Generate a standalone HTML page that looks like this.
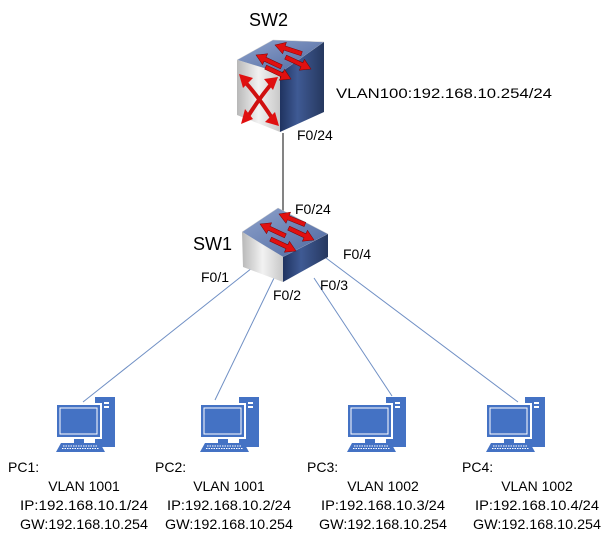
<!DOCTYPE html>
<html><head><meta charset="utf-8"><style>
html,body{margin:0;padding:0;background:#fff;}
svg{display:block;}
text{font-family:"Liberation Sans",sans-serif;font-size:14px;fill:#000;}
</style></head><body>
<svg width="611" height="542" viewBox="0 0 611 542" xmlns="http://www.w3.org/2000/svg">
<defs>
<linearGradient id="fl" x1="0" y1="0" x2="1" y2="0"><stop offset="0" stop-color="#b8b8b8"/><stop offset="0.5" stop-color="#f2f2f2"/><stop offset="1" stop-color="#c8c8c8"/></linearGradient>
<linearGradient id="rt" x1="0" y1="0" x2="1" y2="0"><stop offset="0" stop-color="#1f3360"/><stop offset="0.4" stop-color="#3f5a94"/><stop offset="1" stop-color="#26385f"/></linearGradient>
<linearGradient id="tp" x1="0" y1="0" x2="1" y2="1"><stop offset="0" stop-color="#8fa3cc"/><stop offset="1" stop-color="#4d679f"/></linearGradient>
<g id="pc">
<rect x="40" y="2" width="20" height="50" fill="#4472c4"/>
<rect x="49" y="7" width="5" height="2" fill="#fff"/><rect x="49" y="11" width="5" height="2" fill="#fff"/>
<rect x="0" y="8" width="47" height="36" fill="#fff"/>
<rect x="2" y="10" width="43" height="32" fill="#4472c4"/>
<rect x="5" y="13" width="37" height="26" fill="none" stroke="#fff" stroke-width="1"/>
<rect x="19" y="44" width="10" height="4" fill="#4472c4"/>
<polygon points="6,48 45,48 50,57 1,57" fill="#4472c4"/>
<line x1="8" y1="51" x2="43" y2="51" stroke="#fff" stroke-dasharray="1.5,1"/>
<line x1="7" y1="53.5" x2="44" y2="53.5" stroke="#fff" stroke-dasharray="1.5,1"/>
</g>
<g id="arr" fill="#e01010" stroke="#7a0000" stroke-width="0.5">
<polygon points="0,0 10,-6 10,-2.2 28,-2.2 28,2.2 10,2.2 10,6"/>
</g>
</defs>

<line x1="283" y1="133" x2="283" y2="212" stroke="#333" stroke-width="1.2"/>
<g stroke="#6f8fc4" stroke-width="1">
<line x1="252" y1="268" x2="83" y2="402"/>
<line x1="274" y1="278" x2="215" y2="400"/>
<line x1="314" y1="278" x2="392" y2="396"/>
<line x1="326" y1="258" x2="518" y2="402"/>
</g>

<!-- SW2 -->
<polygon points="237,60 273,40 324,42 280,73" fill="url(#tp)" stroke="#ccc" stroke-width="0.5"/>
<polygon points="237,60 280,73 280,132 237,115" fill="url(#fl)"/>
<polygon points="280,73 324,42 324,112 280,132" fill="url(#rt)"/>
<use href="#arr" transform="translate(275,45) rotate(18)"/>
<use href="#arr" transform="translate(256,55) rotate(25)"/>
<use href="#arr" transform="translate(311,69) rotate(205)"/>
<use href="#arr" transform="translate(291,79) rotate(205)"/>
<g stroke="#d01010" stroke-width="4" fill="none"><path d="M245,82 Q258,96 274,121"/><path d="M272,83 Q258,100 247,118"/></g>
<g fill="#e01010"><polygon points="239,74 253,78 243,88"/><polygon points="279,126 265,122 275,112"/><polygon points="278,77 264,79 273,90"/><polygon points="241,124 245,109 253,119"/></g>

<!-- SW1 -->
<polygon points="242,232 278,208 328,234 283,257" fill="url(#tp)" stroke="#ccc" stroke-width="0.5"/>
<polygon points="242,232 283,257 283,282 243,267" fill="url(#fl)"/>
<polygon points="283,257 328,234 328,257 283,282" fill="url(#rt)"/>
<use href="#arr" transform="translate(279,214) rotate(22)"/>
<use href="#arr" transform="translate(260,224) rotate(25)"/>
<use href="#arr" transform="translate(314,240) rotate(205)"/>
<use href="#arr" transform="translate(296,251) rotate(205)"/>

<use href="#pc" x="55" y="395"/>
<use href="#pc" x="199" y="395"/>
<use href="#pc" x="346" y="395"/>
<use href="#pc" x="485" y="395"/>

<text x="249" y="26" style="font-size:18px">SW2</text>
<text x="193" y="250" style="font-size:18px">SW1</text>
<text x="336" y="98" textLength="216" lengthAdjust="spacingAndGlyphs">VLAN100:192.168.10.254/24</text>
<text x="297" y="140">F0/24</text>
<text x="295" y="214">F0/24</text>
<text x="343" y="259">F0/4</text>
<text x="201" y="282">F0/1</text>
<text x="273" y="300">F0/2</text>
<text x="320" y="290">F0/3</text>

<g>
<text x="8" y="472">PC1:</text>
<text x="84" y="491" text-anchor="middle">VLAN 1001</text>
<text x="84" y="510" text-anchor="middle" textLength="128" lengthAdjust="spacingAndGlyphs">IP:192.168.10.1/24</text>
<text x="84" y="529" text-anchor="middle" textLength="128" lengthAdjust="spacingAndGlyphs">GW:192.168.10.254</text>

<text x="155" y="472">PC2:</text>
<text x="229" y="491" text-anchor="middle">VLAN 1001</text>
<text x="229" y="510" text-anchor="middle" textLength="124" lengthAdjust="spacingAndGlyphs">IP:192.168.10.2/24</text>
<text x="229" y="529" text-anchor="middle" textLength="128" lengthAdjust="spacingAndGlyphs">GW:192.168.10.254</text>

<text x="307" y="472">PC3:</text>
<text x="383" y="491" text-anchor="middle">VLAN 1002</text>
<text x="383" y="510" text-anchor="middle" textLength="124" lengthAdjust="spacingAndGlyphs">IP:192.168.10.3/24</text>
<text x="383" y="529" text-anchor="middle" textLength="128" lengthAdjust="spacingAndGlyphs">GW:192.168.10.254</text>

<text x="462" y="472">PC4:</text>
<text x="537" y="491" text-anchor="middle">VLAN 1002</text>
<text x="537" y="510" text-anchor="middle" textLength="124" lengthAdjust="spacingAndGlyphs">IP:192.168.10.4/24</text>
<text x="537" y="529" text-anchor="middle" textLength="128" lengthAdjust="spacingAndGlyphs">GW:192.168.10.254</text>
</g>
</svg>
</body></html>
